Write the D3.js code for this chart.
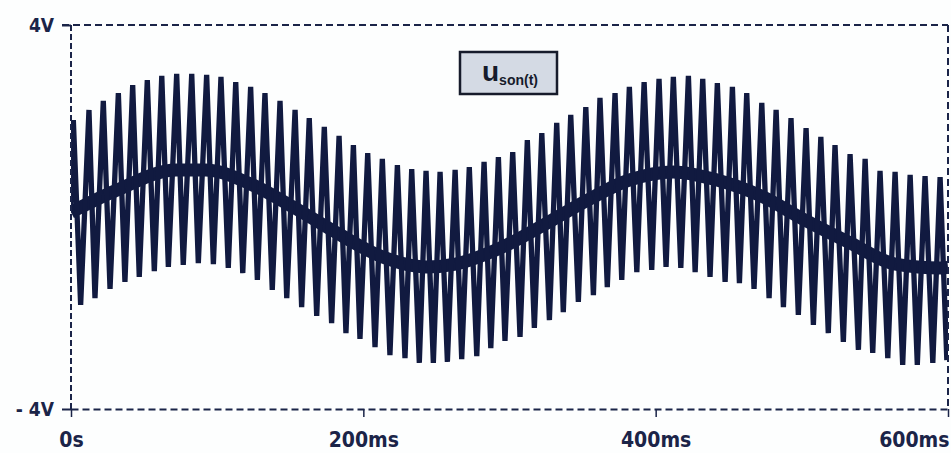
<!DOCTYPE html>
<html>
<head>
<meta charset="utf-8">
<script src="https://cdn.jsdelivr.net/npm/d3@7"></script>
<style>
  html, body { margin: 0; padding: 0; background: #fdfefe; }
  #graph { width: 951px; height: 453px; }
</style>
</head>
<body>
<div id="graph"></div>
<script>
// time of each upper spike (ms) and its value (V)
const peakT = [1.6, 12.3, 22.1, 32.4, 42.2, 52.2, 62.1, 72.3, 82.6, 92.8,
  102.6, 112.7, 122.9, 132.7, 143.0, 153.3, 163.0, 173.3, 183.4, 193.2,
  203.0, 213.0, 223.3, 233.1, 242.9, 252.5, 262.8, 272.5, 282.6, 292.4,
  302.2, 312.2, 322.1, 332.3, 341.9, 352.2, 361.9, 372.2, 382.0, 392.1,
  402.3, 412.1, 422.4, 432.2, 442.2, 452.5, 462.3, 472.6, 482.4, 492.6,
  502.9, 513.0, 522.7, 533.0, 543.3, 553.5, 563.8, 574.1, 584.3, 594.6];
const peakV = [2.02, 2.23, 2.42, 2.58, 2.75, 2.85, 2.94, 2.98, 2.98, 2.96,
  2.92, 2.81, 2.71, 2.58, 2.42, 2.23, 2.06, 1.88, 1.69, 1.50,
  1.33, 1.21, 1.08, 1.00, 0.96, 0.94, 0.98, 1.04, 1.15, 1.25,
  1.35, 1.60, 1.75, 1.96, 2.13, 2.29, 2.48, 2.58, 2.71, 2.81,
  2.88, 2.92, 2.94, 2.88, 2.79, 2.71, 2.58, 2.38, 2.23, 2.06,
  1.85, 1.67, 1.50, 1.31, 1.21, 0.96, 0.94, 0.88, 0.85, 0.83];
// time of each lower spike (ms) and its value (V)
const troughT = [6.6, 16.4, 26.7, 36.9, 46.7, 57.0, 66.6, 76.8, 87.1, 97.4,
  107.6, 117.5, 127.5, 137.7, 147.6, 157.8, 168.1, 178.3, 188.1, 197.7,
  208.0, 218.2, 228.5, 238.3, 247.9, 257.5, 267.3, 277.6, 287.2, 296.9,
  307.2, 317.0, 327.3, 336.8, 347.1, 357.4, 366.9, 376.8, 387.1, 397.3,
  407.1, 417.2, 427.0, 437.2, 447.5, 457.3, 467.3, 477.6, 487.4, 497.6,
  507.9, 518.1, 528.4, 538.7, 548.5, 558.8, 569.0, 579.0, 589.6, 599.2];
const troughV = [-1.83, -1.69, -1.50, -1.35, -1.25, -1.13, -1.04, -1.00, -0.96, -0.98,
  -1.06, -1.17, -1.31, -1.52, -1.69, -1.88, -2.06, -2.21, -2.42, -2.54,
  -2.71, -2.88, -2.94, -3.04, -3.04, -3.02, -2.96, -2.90, -2.73, -2.58,
  -2.50, -2.31, -2.15, -1.98, -1.77, -1.63, -1.46, -1.31, -1.15, -1.10,
  -1.04, -1.06, -1.15, -1.25, -1.35, -1.38, -1.50, -1.69, -1.88, -2.04,
  -2.25, -2.42, -2.60, -2.77, -2.83, -2.94, -3.08, -3.08, -3.04, -2.98];
// dark middle band of the trace
const bandT = [0, 30, 72, 92, 122, 153, 183, 213, 243, 263, 292, 322,
  352, 382, 412, 442, 472, 503, 533, 564, 595, 600];
const bandV = [0.10, 0.54, 0.98, 0.98, 0.70, 0.19, -0.35, -0.83, -1.04, -0.98, -0.67, -0.19,
  0.33, 0.77, 0.94, 0.77, 0.44, -0.08, -0.54, -0.98, -1.06, -1.05];

const xTicks = [0, 200, 400, 600];
const xTickLabels = ["0s", "200ms", "400ms", "600ms"];
const yTicks = [-4, 4];
const yTickLabels = ["- 4V", "4V"];
const traceName = "u", traceSub = "son(t)";

const width = 951, height = 453;
const pLeft = 71, pRight = 948, pTop = 25, pBottom = 409;
const ink = "#111a40", axisInk = "#1b2448";
const font = "'DejaVu Sans Condensed', 'DejaVu Sans', sans-serif";

const svg = d3.select("#graph").
append("svg").
attr("width", width).
attr("height", height);

const x = d3.scaleLinear().domain([0, 600]).range([pLeft, pRight]);
const y = d3.scaleLinear().domain([-4, 4]).range([pBottom, pTop]);

// trace points, upper and lower spikes in time order
let pts = [{t: bandT[0], v: bandV[0]}];
peakT.forEach((t, i) => {
  pts.push({t: t, v: peakV[i]});
  pts.push({t: troughT[i], v: troughV[i]});
});

svg.append("clipPath").attr("id", "plot").
append("rect").
attr("x", pLeft).attr("y", pTop).
attr("width", pRight - pLeft).attr("height", pBottom - pTop);

const plot = svg.append("g").attr("clip-path", "url(#plot)");

plot.append("path").
datum(bandT.map((t, i) => ({t: t, v: bandV[i]}))).
attr("fill", "none").
attr("stroke", ink).
attr("stroke-width", 13).
attr("d", d3.line().curve(d3.curveMonotoneX).x(d => x(d.t)).y(d => y(d.v)));

plot.append("path").
datum(pts).
attr("fill", "none").
attr("stroke", ink).
attr("stroke-width", 5.3).
attr("stroke-linejoin", "bevel").
attr("d", d3.line().x(d => x(d.t)).y(d => y(d.v)));

// frame
const dash = "7,4";
svg.append("line").attr("x1", pLeft - 9).attr("x2", pRight).attr("y1", pTop).attr("y2", pTop).
attr("stroke", axisInk).attr("stroke-width", 2).attr("stroke-dasharray", dash);
svg.append("line").attr("x1", pRight).attr("x2", pRight).attr("y1", pTop).attr("y2", pBottom).
attr("stroke", axisInk).attr("stroke-width", 2).attr("stroke-dasharray", dash);
svg.append("line").attr("x1", pLeft).attr("x2", pLeft).attr("y1", pTop).attr("y2", pBottom).
attr("stroke", axisInk).attr("stroke-width", 2).attr("stroke-dasharray", "6,3");

const xAxis = d3.axisBottom(x).
tickValues(xTicks).
tickSize(8).
tickSizeOuter(0).
tickPadding(15).
tickFormat((d, i) => xTickLabels[i]);
const gx = svg.append("g").
attr("transform", "translate(0," + pBottom + ")").
call(xAxis);
gx.select(".domain").attr("stroke", axisInk).attr("stroke-width", 2).attr("stroke-dasharray", dash);
gx.selectAll(".tick line").attr("stroke", axisInk).attr("stroke-width", 1.5);
gx.selectAll("text").
attr("fill", axisInk).
style("font-family", font).
style("font-weight", "bold").
style("font-size", "21px");
// last label sits inside the right edge
gx.selectAll("text").filter((d, i) => i === xTicks.length - 1).
attr("text-anchor", "end").
attr("x", width - 2 - x(600));

const yAxis = d3.axisLeft(y).
tickValues(yTicks).
tickSize(9).
tickSizeOuter(0).
tickPadding(8).
tickFormat((d, i) => yTickLabels[i]);
const gy = svg.append("g").
attr("transform", "translate(" + pLeft + ",0)").
call(yAxis);
gy.select(".domain").remove();
gy.selectAll(".tick line").attr("stroke", axisInk).attr("stroke-width", 2);
gy.selectAll("text").
attr("fill", axisInk).
style("font-family", font).
style("font-weight", "bold").
style("font-size", "19px");

// trace name box
svg.append("rect").
attr("x", 460).attr("y", 52).
attr("width", 97).attr("height", 42).
attr("fill", "#d4dae4").
attr("stroke", "#161b2b").
attr("stroke-width", 2.5);
const label = svg.append("text").
attr("x", 482).attr("y", 81).
attr("fill", "#161b2b").
style("font-family", "'Liberation Sans', Arial, sans-serif").
style("font-weight", "bold");
label.append("tspan").style("font-size", "28px").text(traceName);
label.append("tspan").attr("dy", 4).style("font-size", "14px").text(traceSub);
</script>
</body>
</html>
